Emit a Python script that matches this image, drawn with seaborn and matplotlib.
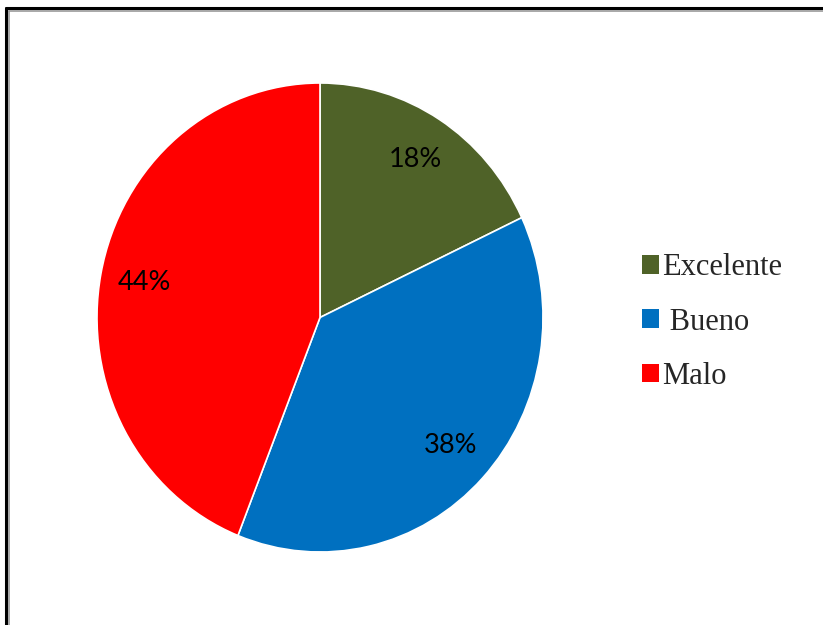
import matplotlib
matplotlib.use("Agg")
import matplotlib.pyplot as plt
from matplotlib.lines import Line2D
from matplotlib.patches import Patch
import seaborn as sns

categorias = ["Excelente", "Bueno", "Malo"]
porcentajes = [18, 38, 44]
colores = ["#4F6228", "#0070C0", "#FF0000"]
etiquetas_leyenda = ["Excelente", " Bueno", "Malo"]

sns.set_theme(style="white")
plt.rcParams["font.family"] = ["Lato", "DejaVu Sans"]

W, H = 823, 625
fig = plt.figure(figsize=(W / 100, H / 100), dpi=100)
fig.patch.set_facecolor("white")

# pie area (slightly taller than wide)
left, right, top, bottom = 97, 543, 83, 552
ax = fig.add_axes([left / W, 1 - bottom / H, (right - left) / W, (bottom - top) / H])
wedges, texts, autotexts = ax.pie(
    porcentajes,
    colors=colores,
    startangle=90,
    counterclock=False,
    autopct=lambda p: f"{p:.0f}%",
    pctdistance=0.80,
    wedgeprops=dict(linewidth=1.2, edgecolor="white"),
    textprops=dict(fontsize=19.5, color="black"),
)
ax.set_xlim(-1, 1)
ax.set_ylim(-1, 1)
ax.set_aspect("auto")
ax.axis("off")

handles = [Patch(facecolor=c, edgecolor="none") for c in colores]
fig.legend(
    handles,
    etiquetas_leyenda,
    loc="center left",
    bbox_to_anchor=(642 / W, 1 - 322 / H),
    frameon=False,
    prop=dict(family="Liberation Serif", size=22),
    handlelength=0.55,
    handleheight=0.55,
    handletextpad=0.1,
    labelspacing=0.82,
    borderpad=0,
    borderaxespad=0,
)

# outer frame (top and left edges)
fig.add_artist(Line2D([6 / W, 1], [1 - 8 / H] * 2, transform=fig.transFigure,
                      color="black", linewidth=2.2))
fig.add_artist(Line2D([6 / W] * 2, [0, 1 - 8 / H], transform=fig.transFigure,
                      color="black", linewidth=2.2))
fig.add_artist(Line2D([9 / W, 1], [1 - 11 / H] * 2, transform=fig.transFigure,
                      color="#9a9a9a", linewidth=1.2))
fig.add_artist(Line2D([9 / W] * 2, [0, 1 - 11 / H], transform=fig.transFigure,
                      color="#9a9a9a", linewidth=1.2))

fig.savefig("out.png", dpi=100, facecolor="white")
